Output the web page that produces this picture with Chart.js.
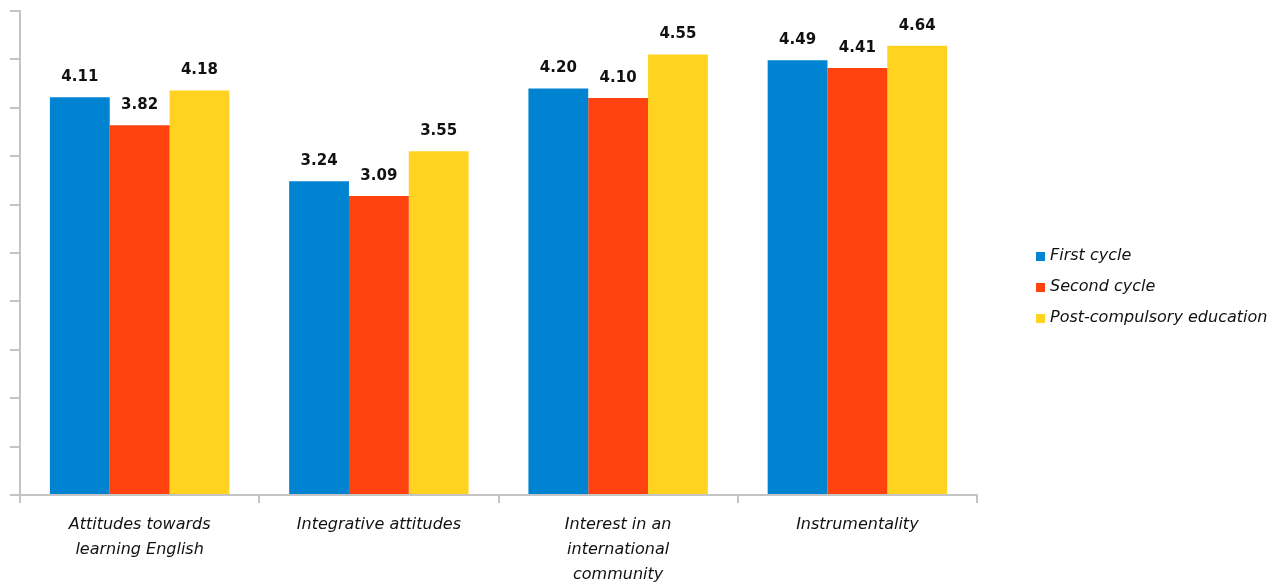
<!DOCTYPE html>
<html>
<head>
<meta charset="utf-8">
<script src="https://cdn.jsdelivr.net/npm/chart.js@4/dist/chart.umd.min.js"></script>
<style>
html,body{margin:0;padding:0;background:#fff;}
#wrap{width:1282px;height:583px;position:relative;}
</style>
</head>
<body>
<div id="wrap"><canvas id="c" width="1282" height="583"></canvas></div>
<script>
const categories = [
  ["Attitudes towards", "learning English"],
  "Integrative attitudes",
  ["Interest in an", "international", "community"],
  "Instrumentality"
];
const seriesNames = ["First cycle", "Second cycle", "Post-compulsory education"];
const firstCycle = [4.11, 3.24, 4.20, 4.49];
const secondCycle = [3.82, 3.09, 4.10, 4.41];
const postCompulsory = [4.18, 3.55, 4.55, 4.64];
const seriesColors = ["#0084D1", "#FF420E", "#FFD320"];
const yMin = 0, yMax = 5, yStep = 0.5;

const textColor = "#111111";
const axisColor = "#c4c4c4";

const valueLabels = {
  id: "valueLabels",
  afterDatasetsDraw(chart) {
    const ctx = chart.ctx;
    ctx.save();
    ctx.font = "bold 15px 'DejaVu Sans'";
    ctx.fillStyle = textColor;
    ctx.textAlign = "center";
    ctx.textBaseline = "middle";
    chart.data.datasets.forEach((ds, i) => {
      const meta = chart.getDatasetMeta(i);
      meta.data.forEach((bar, j) => {
        ctx.fillText(ds.data[j].toFixed(2), bar.x, bar.y - 20);
      });
    });
    ctx.restore();
  }
};

const sideLegend = {
  id: "sideLegend",
  afterDraw(chart) {
    const ctx = chart.ctx;
    const a = chart.chartArea;
    ctx.save();
    ctx.font = "italic 16px 'DejaVu Sans'";
    ctx.textBaseline = "middle";
    ctx.textAlign = "left";
    const x0 = a.right + 59;
    const yc = (a.top + a.bottom) / 2 + 34;
    const gap = 31;
    chart.data.datasets.forEach((ds, i) => {
      const y = yc + (i - 1) * gap;
      ctx.fillStyle = ds.backgroundColor;
      ctx.fillRect(x0, y - 4, 9, 9);
      ctx.fillStyle = textColor;
      ctx.fillText(ds.label, x0 + 14, y);
    });
    ctx.restore();
  }
};

new Chart(document.getElementById("c"), {
  type: "bar",
  data: {
    labels: categories,
    datasets: [
      { label: seriesNames[0], data: firstCycle, backgroundColor: seriesColors[0] },
      { label: seriesNames[1], data: secondCycle, backgroundColor: seriesColors[1] },
      { label: seriesNames[2], data: postCompulsory, backgroundColor: seriesColors[2] }
    ]
  },
  options: {
    responsive: false,
    animation: false,
    maintainAspectRatio: false,
    layout: { padding: { left: 10, top: 11, right: 305, bottom: 0 } },
    datasets: { bar: { categoryPercentage: 0.75, barPercentage: 1.0, borderWidth: 0 } },
    plugins: { legend: { display: false }, tooltip: { enabled: false } },
    scales: {
      x: {
        grid: { display: true, drawOnChartArea: false, drawTicks: true, tickLength: 8, color: axisColor, lineWidth: 2, offset: true },
        border: { display: true, color: axisColor, width: 2 },
        ticks: { color: textColor, padding: 9, maxRotation: 0, autoSkip: false,
          font: { family: "'DejaVu Sans'", size: 16, style: "italic", lineHeight: 1.5625 } },
        afterFit(scale) { scale.height = 88; }
      },
      y: {
        min: yMin, max: yMax,
        grid: { display: true, drawOnChartArea: false, drawTicks: true, tickLength: 10, color: axisColor, lineWidth: 2 },
        border: { display: true, color: axisColor, width: 2 },
        ticks: { display: false, stepSize: yStep },
        afterFit(scale) { scale.width = 10; }
      }
    }
  },
  plugins: [valueLabels, sideLegend]
});
</script>
</body>
</html>
